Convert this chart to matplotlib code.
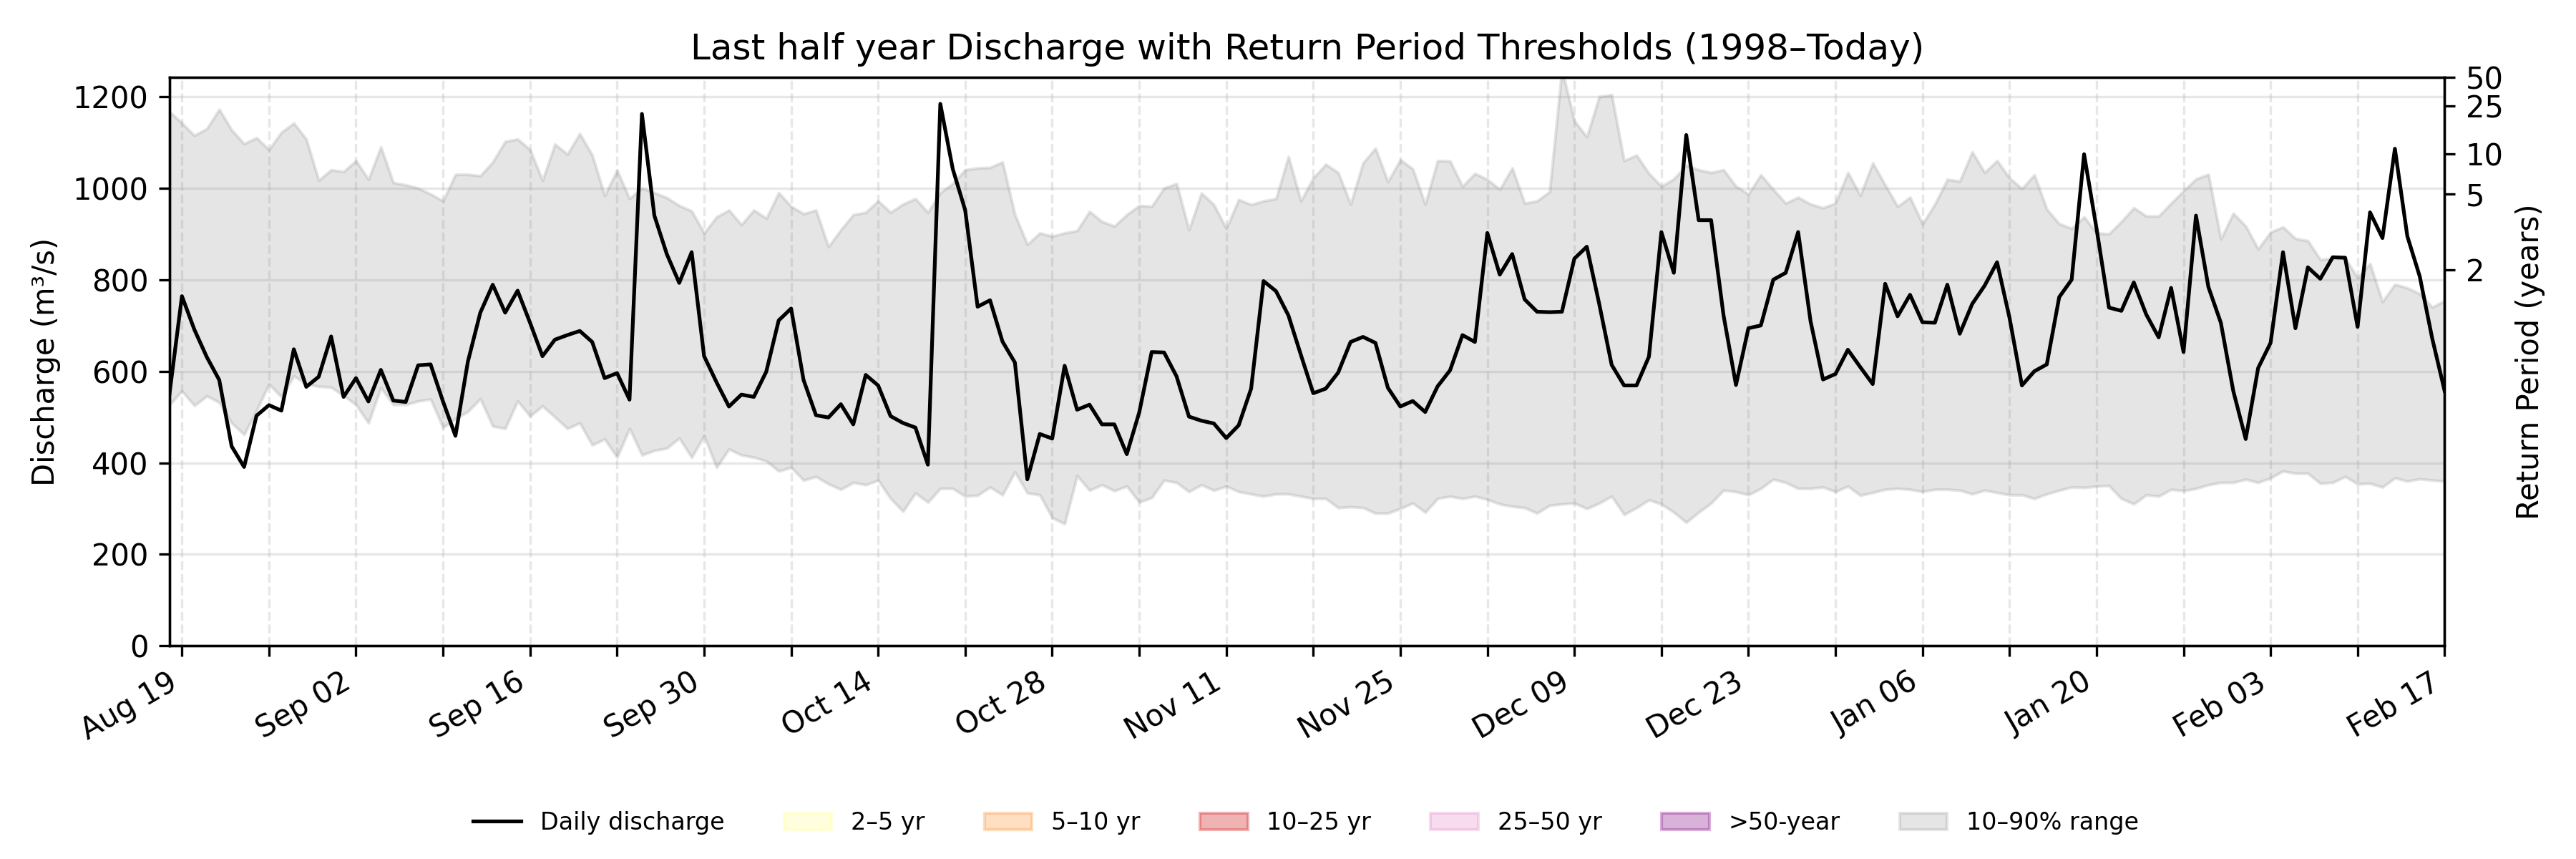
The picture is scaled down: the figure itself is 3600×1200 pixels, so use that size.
import matplotlib
matplotlib.use("Agg")
import matplotlib.pyplot as plt
import matplotlib.dates as mdates
from matplotlib.patches import Patch
from matplotlib.lines import Line2D
import pandas as pd
import numpy as np

# ---------------- data ----------------
start_date = "2024-08-18"

discharge = [
    551, 764, 691, 631, 581, 436, 391, 503, 526, 514,
    648, 566, 588, 676, 544, 585, 534, 603, 536, 533,
    613, 615, 534, 459, 621, 728, 789, 728, 776, 706,
    633, 669, 679, 688, 664, 585, 596, 538, 1162, 940,
    856, 793, 860, 633, 576, 523, 549, 544, 599, 711,
    737, 581, 504, 499, 528, 484, 592, 569, 502, 487,
    477, 396, 1184, 1042, 952, 741, 755, 665, 619, 364,
    463, 453, 612, 516, 527, 484, 484, 419, 510, 642,
    641, 589, 501, 492, 486, 454, 482, 562, 797, 775,
    722, 636, 552, 562, 597, 664, 675, 662, 564, 523,
    535, 511, 567, 602, 679, 664, 902, 811, 856, 757,
    730, 729, 730, 846, 872, 747, 614, 569, 569, 632,
    904, 815, 1116, 930, 930, 722, 570, 694, 700, 800,
    815, 904, 709, 582, 594, 647, 609, 572, 791, 720,
    767, 707, 706, 789, 682, 747, 787, 838, 717, 569,
    600, 615, 762, 800, 1074, 912, 739, 732, 794, 724,
    674, 782, 642, 940, 784, 706, 557, 452, 607, 662,
    860, 694, 827, 802, 849, 848, 697, 947, 891, 1086,
    895, 807, 672, 557,
]

p90 = [
    1167, 1142, 1115, 1130, 1172, 1127, 1097, 1110, 1084, 1122,
    1142, 1107, 1017, 1040, 1036, 1060, 1019, 1090, 1012, 1007,
    1000, 987, 972, 1030, 1030, 1027, 1057, 1102, 1107, 1084,
    1017, 1096, 1074, 1119, 1072, 984, 1039, 977, 1000, 990,
    979, 962, 950, 902, 937, 952, 920, 952, 934, 990,
    960, 944, 952, 872, 909, 942, 947, 972, 947, 965,
    977, 947, 990, 1010, 1040, 1044, 1045, 1057, 942, 877,
    902, 895, 902, 907, 949, 927, 917, 942, 962, 960,
    1000, 1010, 909, 989, 964, 912, 975, 964, 972, 977,
    1069, 972, 1022, 1052, 1034, 965, 1055, 1087, 1014, 1062,
    1042, 965, 1060, 1059, 1004, 1032, 1019, 997, 1044, 967,
    972, 992, 1260, 1147, 1112, 1200, 1204, 1060, 1072, 1032,
    1004, 1020, 1050, 1040, 1034, 1040, 1004, 987, 1029, 997,
    967, 980, 965, 957, 967, 1034, 984, 1055, 1007, 960,
    980, 922, 965, 1019, 1015, 1079, 1034, 1060, 1022, 999,
    1029, 954, 922, 912, 937, 902, 900, 927, 957, 939,
    939, 967, 994, 1020, 1030, 889, 945, 917, 867, 904,
    915, 890, 885, 844, 847, 847, 804, 835, 752, 790,
    782, 769, 740, 754,
]

p10 = [
    527, 557, 525, 546, 532, 487, 462, 514, 572, 544,
    590, 572, 567, 565, 547, 527, 487, 564, 527, 527,
    535, 539, 477, 497, 512, 540, 480, 475, 535, 502,
    524, 500, 475, 487, 439, 452, 412, 475, 417, 427,
    432, 454, 412, 459, 390, 430, 417, 412, 404, 382,
    390, 362, 370, 354, 342, 357, 352, 362, 322, 294,
    334, 314, 344, 344, 327, 329, 347, 330, 380, 334,
    330, 280, 267, 372, 340, 352, 339, 349, 314, 324,
    362, 357, 337, 352, 340, 349, 337, 332, 327, 332,
    332, 327, 322, 322, 302, 304, 302, 290, 290, 300,
    312, 292, 322, 327, 322, 327, 320, 310, 305, 302,
    290, 307, 310, 312, 300, 312, 327, 287, 302, 319,
    310, 292, 270, 292, 312, 340, 337, 330, 344, 364,
    357, 344, 344, 347, 337, 349, 329, 335, 342, 344,
    342, 337, 342, 342, 340, 332, 340, 335, 330, 330,
    322, 332, 340, 347, 346, 349, 350, 322, 310, 330,
    327, 342, 339, 344, 352, 357, 357, 364, 357, 367,
    382, 377, 377, 355, 357, 370, 354, 355, 347, 367,
    360, 365, 362, 360,
]

rp_years = [2, 5, 10, 25, 50]
rp_discharge = [822, 987, 1075, 1180, 1242]

band_labels = ["2\u20135 yr", "5\u201310 yr", "10\u201325 yr", "25\u201350 yr", ">50-year"]
band_colors = ["yellow", "tab:orange", "tab:red", "tab:pink", "purple"]
band_alphas = [0.12, 0.25, 0.35, 0.25, 0.3]

tick_start = "2024-08-19"
tick_end = "2025-02-17"

# ---------------- plot ----------------
dates = pd.date_range(start_date, periods=len(discharge), freq="D")

fig = plt.figure(figsize=(12, 4), dpi=300)
ax = fig.add_axes([0.0658, 0.248, 0.8832, 0.662])

ax.fill_between(dates, p10, p90, color="gray", alpha=0.2, zorder=1)
ax.plot(dates, discharge, color="black", lw=1.25, zorder=3)

ax.set_xlim(dates[0], dates[-1])
ax.set_ylim(0, rp_discharge[-1])
ax.set_yticks(np.arange(0, 1201, 200))

ticks = pd.date_range(tick_start, tick_end, freq="7D")
labels = [t.strftime("%b %d") if i % 2 == 0 else "" for i, t in enumerate(ticks)]
ax.set_xticks(ticks)
ax.set_xticklabels(labels, rotation=30, ha="right")

ax.grid(True, axis="y", color="#b0b0b0", alpha=0.3, lw=0.8, zorder=0)
ax.grid(True, axis="x", color="#b0b0b0", alpha=0.3, lw=0.8, linestyle="--", zorder=0)
ax.set_axisbelow(True)

ax.set_ylabel("Discharge (m\u00b3/s)", fontsize=10)
ax.set_title("Last half year Discharge with Return Period Thresholds (1998\u2013Today)", fontsize=12)
ax.tick_params(labelsize=10)

ax2 = ax.twinx()
ax2.set_ylim(ax.get_ylim())
ax2.set_yticks(rp_discharge)
ax2.set_yticklabels([str(y) for y in rp_years])
ax2.set_ylabel("Return Period (years)", fontsize=10)
ax2.tick_params(labelsize=10)

handles = [Line2D([0], [0], color="black", lw=1.25, label="Daily discharge")]
for lab, c, a in zip(band_labels, band_colors, band_alphas):
    handles.append(Patch(facecolor=c, edgecolor=c, alpha=a, label=lab))
handles.append(Patch(facecolor="gray", edgecolor="gray", alpha=0.2, label="10\u201390% range"))

fig.legend(handles=handles, loc="center", bbox_to_anchor=(0.507, 0.042),
           ncol=7, frameon=False, fontsize=8, columnspacing=2.5)

fig.savefig("out.png", dpi=300)
